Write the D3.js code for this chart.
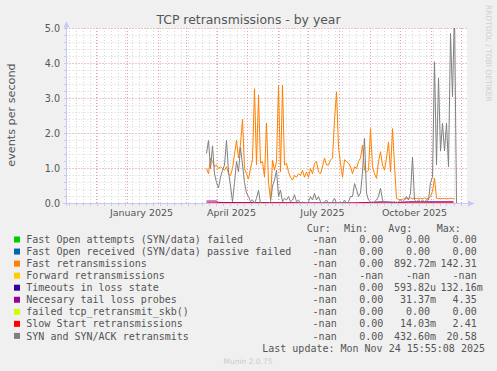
<!DOCTYPE html>
<meta charset="utf-8">
<style>
  body { margin: 0; background: #f0f0f0; }
  svg { display: block; }
  text { fill: #555; }
  .mono { font: 10px "DejaVu Sans Mono", monospace; }
  .sans { font-family: "DejaVu Sans", sans-serif; }
  .grid-minor { stroke: #d8d8d8; stroke-dasharray: 1,2; }
  .grid-major { stroke: #eaa0a0; stroke-dasharray: 1,2; }
  .line { fill: none; stroke-width: 1px; }
</style>
<body>
<script src="https://cdn.jsdelivr.net/npm/d3@7"></script>
<script>

// values every 2 days, starting at seriesStart
var seriesStart = "2025-03-22", stepDays = 2;

var fastRetrans = [1.00,0.85,1.30,1.20,1.05,1.10,1.00,1.05,1.00,0.95,1.05,0.85,0.80,1.00,1.40,1.80,1.30,1.70,2.40,1.00,
  0.85,0.70,1.00,1.25,3.28,1.10,3.10,1.15,1.20,0.75,2.30,0.60,0.10,1.24,0.95,1.20,3.38,0.90,3.38,1.10,
  1.15,0.90,0.75,0.67,0.80,0.75,0.85,0.80,0.95,0.75,0.90,0.75,1.00,0.85,1.15,1.20,0.90,0.85,1.05,1.30,
  1.10,1.10,1.25,1.30,2.38,3.19,1.60,1.15,0.75,1.25,1.20,1.15,1.05,0.85,1.05,1.00,1.20,1.30,1.67,0.95,
  0.90,0.95,2.14,1.05,0.85,0.72,1.20,1.48,1.10,0.95,1.30,1.76,0.90,2.14,1.10,0.14,0.12,0.10,0.12,0.15,
  0.14,0.14,0.16,0.14,0.15,0.14,0.15,0.14,0.14,0.16,0.14,0.15,0.20,0.35,0.72,0.15,0.14,0.14,0.14,0.14,
  0.14,0.14,0.15,0.14,0.14];

var synRetrans = [1.43,1.80,1.00,1.65,0.85,0.60,0.45,0.75,0.95,1.10,1.80,0.90,0.50,0.05,0.60,1.20,0.90,1.60,1.10,0.60,
  0.30,0.20,0.05,0.10,0.00,0.15,0.38,0.00,0.00,0.00,0.00,0.00,0.05,0.50,0.67,0.95,0.20,0.38,0.05,0.15,
  0.10,0.20,0.05,0.10,0.25,0.05,0.10,0.00,0.05,0.00,0.00,0.05,0.20,0.10,0.29,0.10,0.20,0.05,0.00,0.05,
  0.10,0.00,0.00,0.05,0.15,0.00,0.00,0.05,0.00,0.10,0.00,0.05,0.20,0.20,0.57,0.40,0.20,0.30,0.90,1.86,
  0.30,0.10,0.05,0.00,0.05,0.10,0.20,0.43,0.10,0.00,0.00,0.05,0.00,0.00,0.05,0.00,0.05,0.10,0.05,0.10,
  0.20,0.10,0.30,1.33,0.10,0.05,0.10,0.05,0.10,0.05,0.10,0.10,0.60,0.76,4.05,1.10,3.58,1.50,2.29,1.50,
  2.30,1.05,4.86,3.05,5.60,0.00];

var tailProbes = [["2025-03-22",0.07],["2025-04-01",0.07],["2025-04-03",0.03],["2025-06-01",0.02],
  ["2025-08-15",0.01],["2025-09-14",0.05],["2025-09-30",0.03],["2025-10-10",0.05],["2025-11-24",0.05]];

var slowStart = [["2025-03-22",0.02],["2025-06-15",0.02],["2025-07-01",0.01],["2025-09-01",0.02],["2025-11-24",0.02]];

var legendNames = ["Fast Open attempts (SYN/data) failed", "Fast Open received (SYN/data) passive failed",
  "Fast retransmissions", "Forward retransmissions", "Timeouts in loss state", "Necesary tail loss probes",
  "failed tcp_retransmit_skb()", "Slow Start retransmissions", "SYN and SYN/ACK retransmits"];
var legendColors = ["#00cc00","#0066b3","#ff8000","#ffcc00","#330099","#990099","#ccff00","#ff0000","#808080"];
var curVals = ["-nan","-nan","-nan","-nan","-nan","-nan","-nan","-nan","-nan"];
var minVals = ["0.00","0.00","0.00","-nan","0.00","0.00","0.00","0.00","0.00"];
var avgVals = ["0.00","0.00","892.72m","-nan","593.82u","31.37m","0.00","14.03m","432.60m"];
var maxVals = ["0.00","0.00","142.31","-nan","132.16m","4.35","0.00","2.41","20.58"];
var yTicks = [0, 1, 2, 3, 4, 5];

var W = 497, H = 371;
var svg = d3.select("body").append("svg").attr("width", W).attr("height", H);
svg.append("rect").attr("width", W).attr("height", H).attr("fill", "#f0f0f0");

var parse = d3.timeParse("%Y-%m-%d");
var x = d3.scaleTime()
    .domain([parse("2024-11-02"), parse("2025-12-07")])
    .range([66.5, 466.5]);
var y = d3.scaleLinear().domain([0, 5]).range([203.5, 28.5]);

var pLeft = 66.5, pRight = 467, pTop = 28, pBottom = 203.5;
svg.append("rect").attr("x", pLeft).attr("y", pTop).attr("width", pRight - pLeft).attr("height", pBottom - pTop).attr("fill", "#fff");

// grid
var g = svg.append("g");
var weeks = d3.timeMonday.range(x.domain()[0], x.domain()[1]);
var months = d3.timeMonth.range(x.domain()[0], x.domain()[1]);
var minorY = d3.range(0, 26).map(function(i) { return i * 0.2; });

g.selectAll(".vmin").data(weeks).enter().append("line")
  .attr("class", "grid-minor")
  .attr("x1", function(d) { return Math.round(x(d)) + 0.5; })
  .attr("x2", function(d) { return Math.round(x(d)) + 0.5; })
  .attr("y1", pTop).attr("y2", pBottom);
g.selectAll(".hmin").data(minorY).enter().append("line")
  .attr("class", "grid-minor")
  .attr("x1", pLeft).attr("x2", pRight)
  .attr("y1", function(d) { return y(d); }).attr("y2", function(d) { return y(d); });
g.selectAll(".vmaj").data(months).enter().append("line")
  .attr("class", "grid-major")
  .attr("x1", function(d) { return Math.round(x(d)) + 0.5; })
  .attr("x2", function(d) { return Math.round(x(d)) + 0.5; })
  .attr("y1", pTop).attr("y2", pBottom);
g.selectAll(".hmaj").data(yTicks).enter().append("line")
  .attr("class", "grid-major")
  .attr("x1", pLeft).attr("x2", pRight)
  .attr("y1", function(d) { return y(d); }).attr("y2", function(d) { return y(d); });

// y labels
svg.selectAll(".ylab").data(yTicks).enter().append("text")
  .attr("class", "sans")
  .attr("x", 60).attr("y", function(d) { return y(d) + 3.5; })
  .attr("text-anchor", "end").style("font-size", "9.6px")
  .text(function(d) { return d.toFixed(1); });

// x labels (centered half a month after the tick, like rrdtool)
var labelMonths = d3.timeMonth.every(3).range(x.domain()[0], x.domain()[1]);
svg.selectAll(".xlab").data(labelMonths).enter().append("text")
  .attr("class", "sans")
  .attr("x", function(d) { return x(d3.timeDay.offset(d, 15)); })
  .attr("y", 216).attr("text-anchor", "middle").style("font-size", "9.5px")
  .text(d3.timeFormat("%B %Y"));

// series
svg.append("clipPath").attr("id", "plot").append("rect")
  .attr("x", pLeft).attr("y", pTop).attr("width", pRight - pLeft).attr("height", pBottom - pTop + 1);

function stepped(values) {
  var s = parse(seriesStart);
  return values.map(function(v, i) { return { date: d3.timeDay.offset(s, i * stepDays), value: v }; });
}
function pairs(list) {
  return list.map(function(p) { return { date: parse(p[0]), value: p[1] }; });
}
var line = d3.line()
  .x(function(d) { return x(d.date); })
  .y(function(d) { return y(d.value); });

var plot = svg.append("g").attr("clip-path", "url(#plot)");
[[stepped(fastRetrans), legendColors[2]],
 [pairs(tailProbes), legendColors[5]],
 [pairs(slowStart), legendColors[7]],
 [stepped(synRetrans), legendColors[8]]].forEach(function(s) {
  plot.append("path").datum(s[0]).attr("class", "line").attr("d", line).attr("stroke", s[1]);
});

// axes with arrows
var axisColor = "#c8c8f4";
svg.append("line").attr("x1", 66.5).attr("x2", 66.5).attr("y1", 206).attr("y2", 26).attr("stroke", axisColor);
svg.append("line").attr("x1", 63).attr("x2", 469).attr("y1", 203.5).attr("y2", 203.5).attr("stroke", axisColor);
svg.append("path").attr("d", "M66.5,21L63.5,27.5L69.5,27.5Z").attr("fill", axisColor);
svg.append("path").attr("d", "M474.5,203.5L468,200.5L468,206.5Z").attr("fill", axisColor);
svg.selectAll(".ytk").data(minorY).enter().append("line")
  .attr("x1", 64).attr("x2", 66.5)
  .attr("y1", function(d) { return y(d); }).attr("y2", function(d) { return y(d); })
  .attr("stroke", axisColor);
svg.selectAll(".xtk").data(weeks).enter().append("line")
  .attr("x1", function(d) { return Math.round(x(d)) + 0.5; })
  .attr("x2", function(d) { return Math.round(x(d)) + 0.5; })
  .attr("y1", 203.5).attr("y2", 206)
  .attr("stroke", axisColor);

// title and axis label
svg.append("text").attr("class", "sans").attr("x", 248.5).attr("y", 23.5)
  .attr("text-anchor", "middle").style("font-size", "12.4px")
  .text("TCP retransmissions - by year");
svg.append("text").attr("class", "sans")
  .attr("transform", "translate(15,115) rotate(-90)")
  .attr("text-anchor", "middle").style("font-size", "11.2px")
  .text("events per second");
svg.append("text").attr("class", "sans")
  .attr("transform", "translate(486,5) rotate(90)")
  .style("font-size", "7.5px").style("fill", "#cfcfcf")
  .text("RRDTOOL / TOBI OETIKER");

// legend
var header = [["Cur:", 306.7], ["Min:", 344], ["Avg:", 388.3], ["Max:", 436.7]];
svg.selectAll(".hdr").data(header).enter().append("text")
  .attr("class", "mono").attr("x", function(d) { return d[1]; }).attr("y", 232)
  .text(function(d) { return d[0]; });

var rows = svg.selectAll(".row").data(legendNames).enter().append("g")
  .attr("transform", function(d, i) { return "translate(0," + (239.5 + i * 12.05) + ")"; });
rows.append("rect").attr("x", 14).attr("y", -3).attr("width", 6).attr("height", 6)
  .attr("fill", function(d, i) { return legendColors[i]; });
rows.append("text").attr("class", "mono").attr("x", 26.3).attr("y", 3.6)
  .text(function(d) { return d; });

var cols = [[curVals, 336.7], [minVals, 383.3], [avgVals, 430], [maxVals, 476.7]];
cols.forEach(function(c) {
  rows.each(function(d, i) {
    var m = c[0][i].match(/^(.*?)([mu]?)$/);
    var row = d3.select(this);
    row.append("text").attr("class", "mono").attr("x", c[1]).attr("y", 3.6)
      .attr("text-anchor", "end").text(m[1]);
    if (m[2]) row.append("text").attr("class", "mono").attr("x", c[1]).attr("y", 3.6).text(m[2]);
  });
});

svg.append("text").attr("class", "mono").attr("x", 485).attr("y", 351.5)
  .attr("text-anchor", "end").text("Last update: Mon Nov 24 15:55:08 2025");
svg.append("text").attr("class", "sans").attr("x", 248).attr("y", 363.5)
  .attr("text-anchor", "middle").style("font-size", "7.5px").style("fill", "#cccccc")
  .text("Munin 2.0.75");

</script>
</body>
